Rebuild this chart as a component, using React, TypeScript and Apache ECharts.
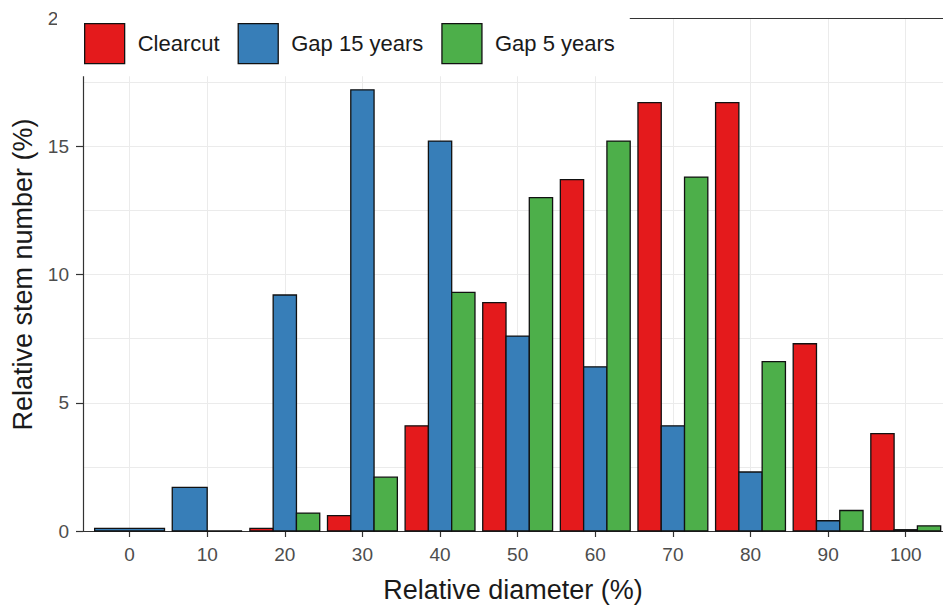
import React, { useEffect, useRef } from "react";
import * as echarts from "echarts";

const categories = [0, 10, 20, 30, 40, 50, 60, 70, 80, 90, 100];
const clearcut = [null, null, 0.1, 0.6, 4.1, 8.9, 13.7, 16.7, 16.7, 7.3, 3.8];
const gap15 = [0.1, 1.7, 9.2, 17.2, 15.2, 7.6, 6.4, 4.1, 2.3, 0.4, 0.05];
const gap5 = [null, 0, 0.7, 2.1, 9.3, 13.0, 15.2, 13.8, 6.6, 0.8, 0.2];
const seriesNames = ["Clearcut", "Gap 15 years", "Gap 5 years"];
const yTicks = [0, 5, 10, 15, 20];

const COLORS = ["#E41A1C", "#377EB8", "#4DAF4A"];
const DODGE = 9;
const FONT = "'Liberation Sans', Arial, sans-serif";

export default function App() {
  const ref = useRef<HTMLDivElement>(null);
  useEffect(() => {
    if (!ref.current) return;
    const chart = echarts.init(ref.current, null, { renderer: "svg" });
    const groups = [clearcut, gap15, gap5];
    const series = groups.map((vals, g) => {
      const data: number[][] = [];
      categories.forEach((c, i) => {
        const v = vals[i];
        if (v === null || v === undefined) return;
        const present = groups
          .map((arr, k) => (arr[i] === null || arr[i] === undefined ? -1 : k))
          .filter((k) => k >= 0);
        const n = present.length;
        const idx = present.indexOf(g);
        const w = DODGE / n;
        const left = c - DODGE / 2 + idx * w;
        data.push([left, left + w, v as number]);
      });
      return {
        type: "custom",
        name: seriesNames[g],
        data,
        encode: { x: [0, 1], y: 2 },
        itemStyle: { color: COLORS[g] },
        renderItem: (params: any, api: any) => {
          const p1 = api.coord([api.value(0), api.value(2)]);
          const p2 = api.coord([api.value(1), 0]);
          return {
            type: "rect",
            shape: { x: p1[0], y: p1[1], width: p2[0] - p1[0], height: p2[1] - p1[1] },
            style: { fill: COLORS[g], stroke: "#111", lineWidth: 1.3 },
          };
        },
      };
    });
    chart.setOption({
      animation: false,
      backgroundColor: "#fff",
      textStyle: { fontFamily: FONT },
      grid: { left: 83, right: 0, top: 18, bottom: 75, containLabel: false, outerBoundsMode: "none" },
      legend: {
        top: 0,
        left: 57,
        padding: [23, 15, 12, 27],
        itemWidth: 40,
        itemHeight: 40,
        itemGap: 18,
        backgroundColor: "#fff",
        textStyle: { fontSize: 22, color: "#1a1a1a", fontFamily: FONT, padding: [0, 0, 0, 8] },
        data: seriesNames.map((n, i) => ({
          name: n,
          icon: "rect",
          itemStyle: { color: COLORS[i], borderColor: "#111", borderWidth: 1.3 },
        })),
      },
      xAxis: [
        {
          type: "value",
          min: -6,
          max: 104.8,
          name: "Relative diameter (%)",
          nameLocation: "middle",
          nameGap: 45,
          nameTextStyle: { fontSize: 27, color: "#1a1a1a", fontFamily: FONT },
          axisLine: { show: true, onZero: false, lineStyle: { color: "#333", width: 1.2 } },
          axisTick: { show: true, length: 6, customValues: categories, lineStyle: { color: "#333", width: 1.2 } },
          axisLabel: { customValues: categories, fontSize: 19, color: "#4d4d4d", margin: 14, fontFamily: FONT },
          splitLine: { show: true, lineStyle: { color: "#ebebeb", width: 1 } },
        },
        {
          type: "value",
          position: "top",
          min: -6,
          max: 104.8,
          axisLine: { show: true, onZero: false, lineStyle: { color: "#333", width: 1.2 } },
          axisTick: { show: false },
          axisLabel: { show: false },
          splitLine: { show: false },
        },
      ],
      yAxis: {
        type: "value",
        min: yTicks[0],
        max: yTicks[yTicks.length - 1],
        interval: 5,
        name: "Relative stem number (%)",
        nameLocation: "middle",
        nameGap: 46,
        nameTextStyle: { fontSize: 27, color: "#1a1a1a", fontFamily: FONT },
        axisLine: { show: true, onZero: false, lineStyle: { color: "#333", width: 1.2 } },
        axisTick: { show: true, length: 7, lineStyle: { color: "#333", width: 1.2 } },
        axisLabel: { fontSize: 19, color: "#4d4d4d", margin: 14, fontFamily: FONT },
        splitLine: { show: true, lineStyle: { color: "#ebebeb", width: 1 } },
        minorTick: { show: false, splitNumber: 2 },
        minorSplitLine: { show: true, lineStyle: { color: "#ebebeb", width: 1 } },
      },
      series,
    });
    return () => chart.dispose();
  }, []);
  return (
    <div
      ref={ref}
      style={{ position: "absolute", left: 0, top: 0, width: 943, height: 606 }}
    />
  );
}
